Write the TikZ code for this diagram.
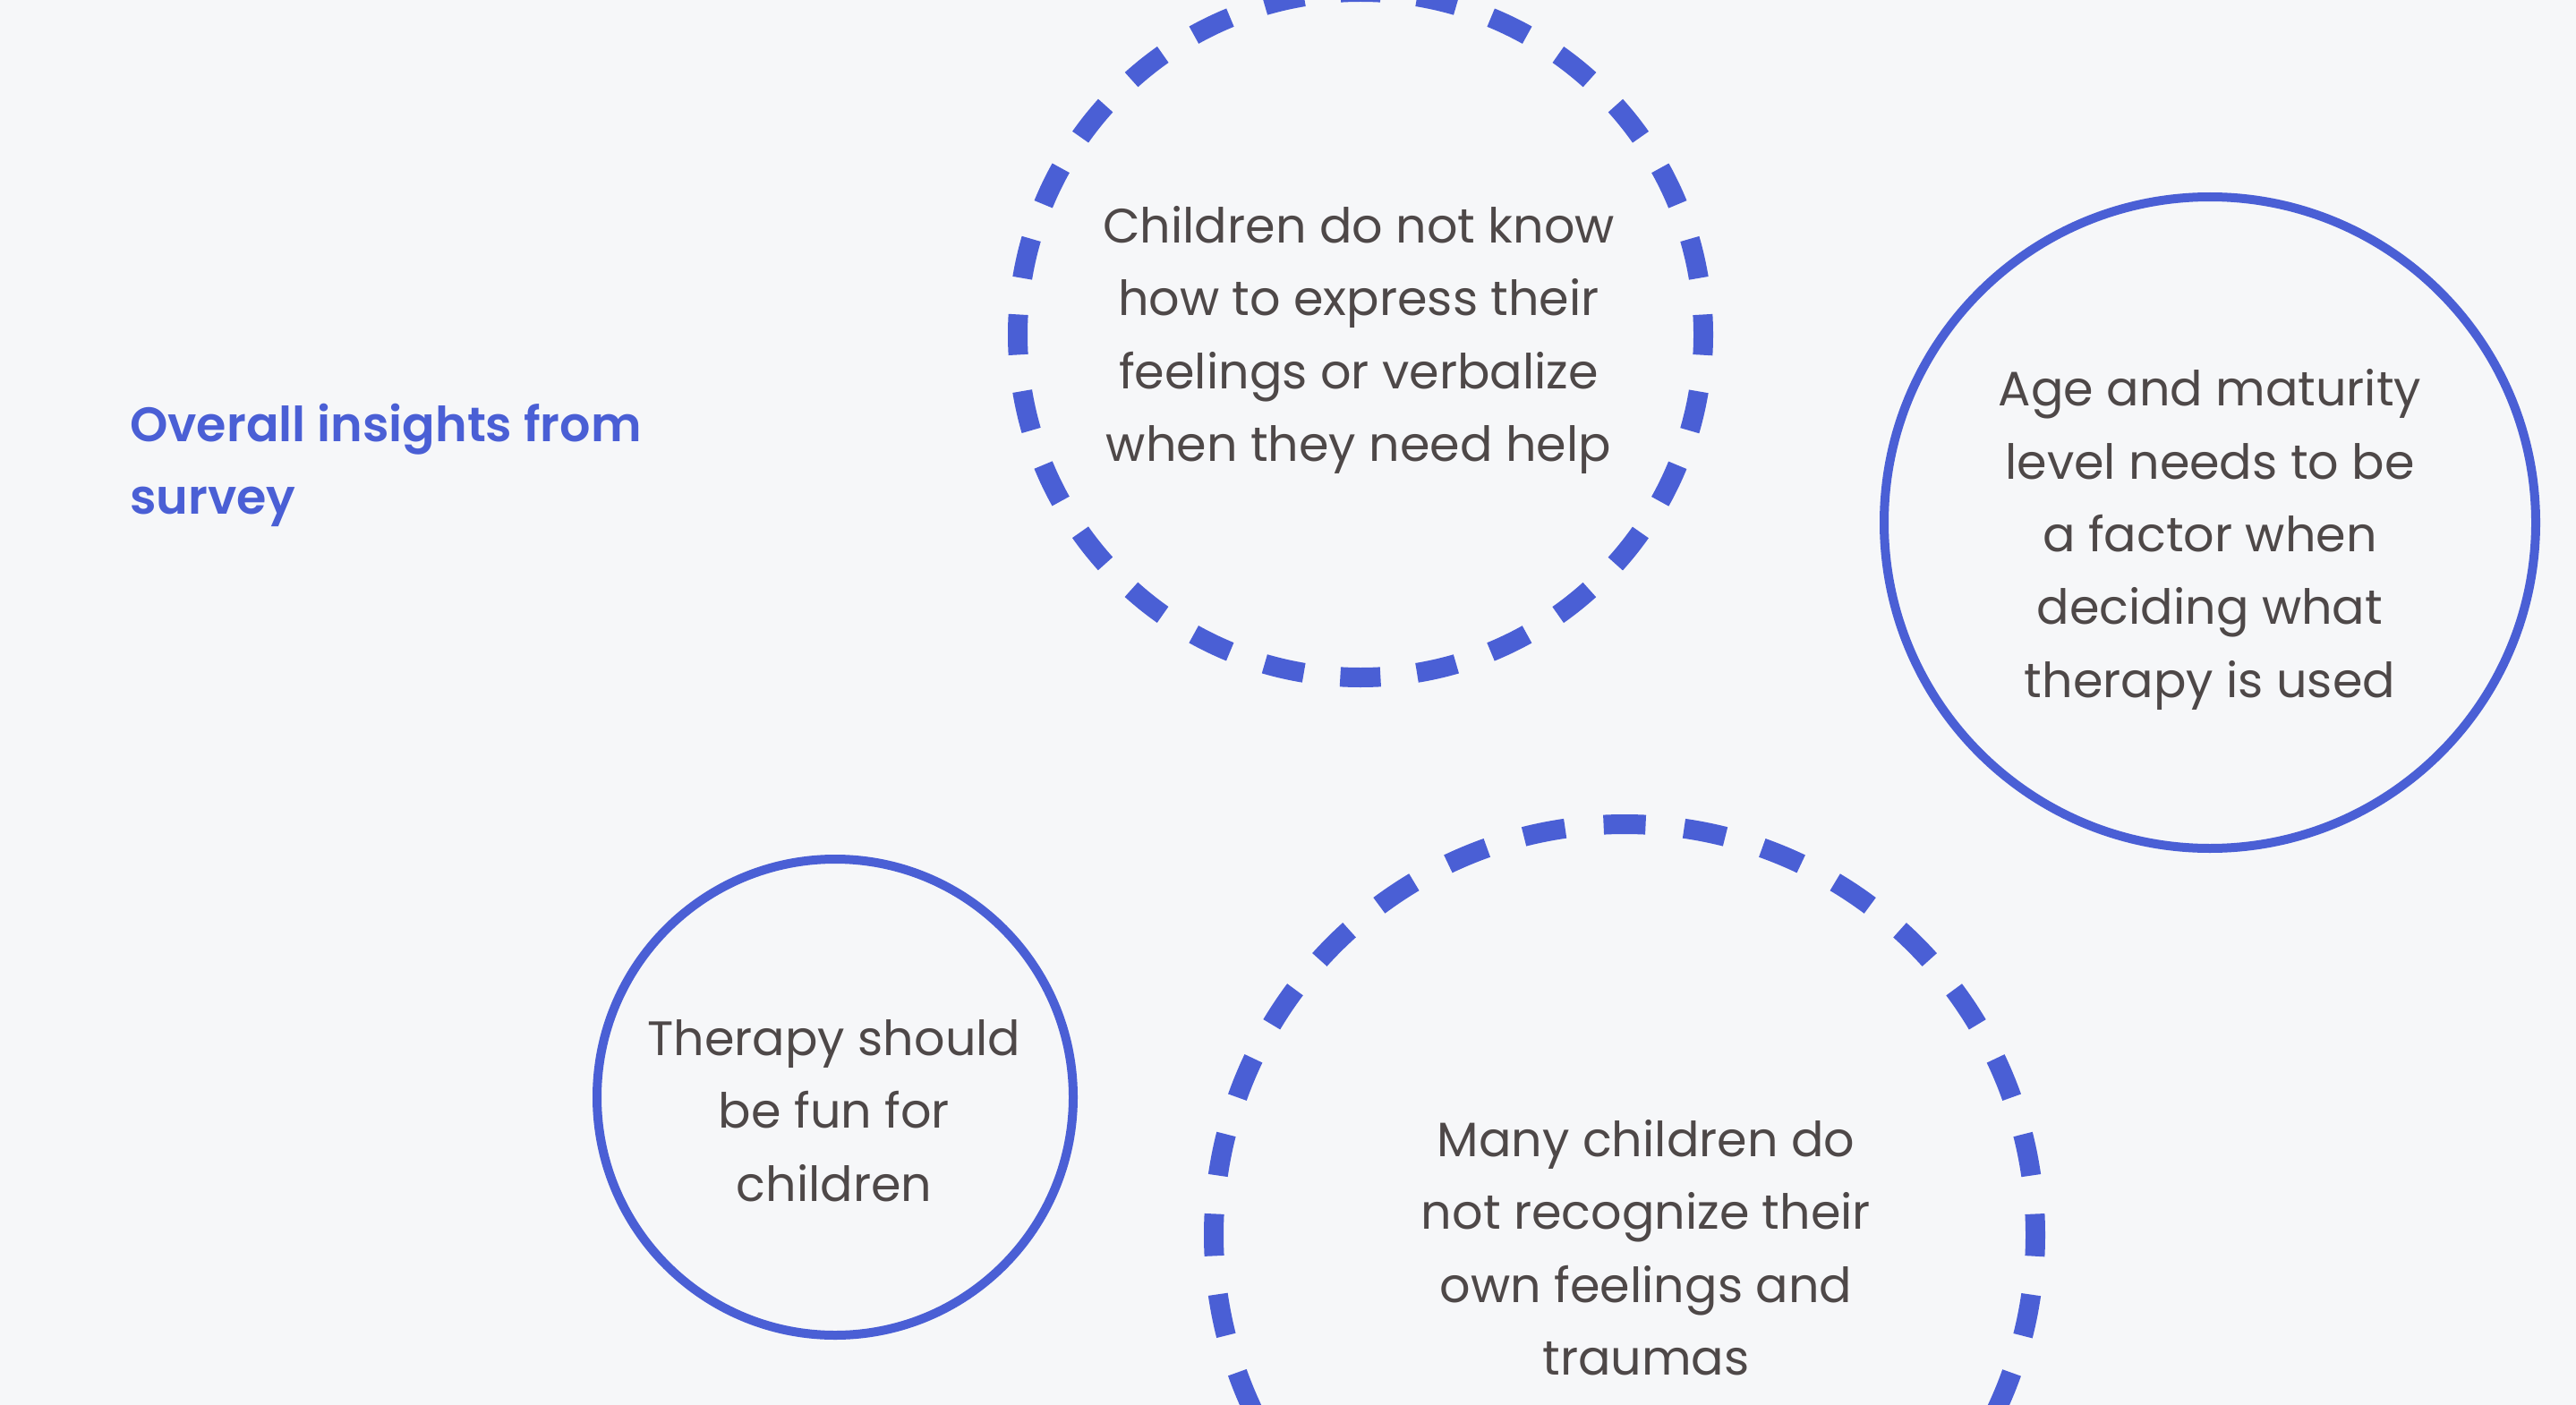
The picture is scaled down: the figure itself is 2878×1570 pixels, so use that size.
\documentclass[tikz,border=0pt]{standalone}
\usepackage{fontspec}
\setmainfont{Poppins}[BoldFont={Poppins SemiBold}]
\usetikzlibrary{positioning}
\definecolor{paper}{HTML}{F6F7F9}
\definecolor{accent}{HTML}{4A5FD5}
\definecolor{ink}{HTML}{4E4848}

\begin{document}
\begin{tikzpicture}[
    x=1pt,y=-1pt,
    ring/.style={circle,draw=accent,line width=10pt,inner sep=0pt},
    % #1 dash, #2 gap -- a whole number of dashes round the ring
    dashring/.style 2 args={ring,line width=22pt,
        dash pattern=on #1pt off #2pt,dash phase=0.5*#1pt},
    smalldashring/.style={dashring={45}{40.95}},
    largedashring/.style={dashring={47}{43.13}},
    insight/.style={ink,align=center,inner sep=0pt,
        font=\fontsize{54}{81.4}\selectfont},
    heading/.style={accent,align=left,anchor=base west,inner sep=0pt,
        font=\fontsize{54}{81}\selectfont\bfseries},
  ]

  % page: 1px of the reference = 1pt
  \useasboundingbox (0,0) rectangle (2878,1570);
  \fill[paper] (0,0) rectangle (2878,1570);
  \clip (0,0) rectangle (2878,1570);

  % ============================================================= TITLE
  % base anchor sits on the last line here
  \node[heading] (title) at (145,574) {Overall insights from\\survey};

  % ============================================================= RINGS
  % #1 name  #2,#3 ring centre  #4 radius  #5 style  #6,#7 text centre
  \foreach \nm/\cx/\cy/\rad/\sty/\tx/\ty/\txt in {
      express/1520/374/383/smalldashring/1518/380/{Children do not know\\how to express their\\feelings or verbalize\\when they need help},
      maturity/2469/584/364/ring/2469/603/{Age and maturity\\level needs to be\\a factor when\\deciding what\\therapy is used},
      fun/933/1226/266/ring/932/1241/{Therapy should\\be fun for\\children},
      recognize/1815/1380/459/largedashring/1839/1394/{Many children do\\not recognize their\\own feelings and\\traumas}}{
    \node[\sty,minimum size=2*\rad] (\nm) at (\cx,\cy) {};
    \node[insight] (\nm-txt) at (\tx,\ty) {\txt};
  }

\end{tikzpicture}
\end{document}
